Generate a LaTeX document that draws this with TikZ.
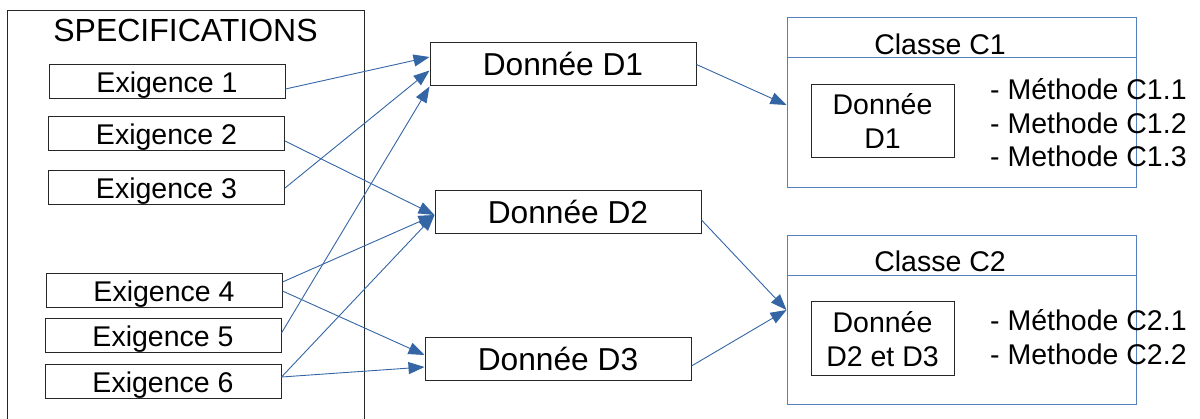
\documentclass[tikz,border=0pt]{standalone}
\usepackage{fontspec}
\setmainfont{Liberation Sans}
\usetikzlibrary{arrows.meta,calc}
\definecolor{arrowblue}{RGB}{52,101,164}
\definecolor{classblue}{RGB}{84,128,190}
\begin{document}
\begin{tikzpicture}[x=1pt,y=-1pt,
  exbox/.style={draw=black!85,line width=1pt,minimum width=236pt,minimum height=34pt,inner sep=0pt,text height=20.5pt,text depth=0pt,font=\fontsize{28.5}{30}\selectfont},
  dbox/.style={draw=black!85,line width=1pt,minimum width=266pt,minimum height=43pt,inner sep=0pt,text height=22.8pt,text depth=0pt,font=\fontsize{31.7}{33}\selectfont},
  classbox/.style={draw=classblue,line width=1pt,minimum width=349pt,inner sep=0pt},
  innerbox/.style={draw=black!85,line width=1pt,minimum width=143pt,inner sep=0pt,align=center,font=\fontsize{28.5}{34}\selectfont},
  lbl/.style={inner sep=0pt,text height=20.5pt,text depth=0pt,font=\fontsize{28.5}{33}\selectfont},
  link/.style={draw=arrowblue,line width=0.9pt,-{Triangle[length=16pt,width=12pt]}}
]
\useasboundingbox (0,0) rectangle (1200,419);
% specifications frame (open at bottom)
\draw[line width=1pt,black!85] (7,419) -- (7,11) -- (364,11) -- (364,419);
\node[lbl,text height=23pt,font=\fontsize{32}{34}\selectfont] (spec) at (185.5,30) {SPECIFICATIONS};

\node[exbox] (ex1) at (167,82) {Exigence 1};
\node[exbox] (ex2) at (166.5,134) {Exigence 2};
\node[exbox] (ex3) at (166.5,188) {Exigence 3};
\node[exbox] (ex4) at (164,291) {Exigence 4};
\node[exbox] (ex5) at (163,336) {Exigence 5};
\node[exbox] (ex6) at (163,382) {Exigence 6};

\node[dbox] (d1) at (563,64.5) {Donnée D1};
\node[dbox] (d2) at (568,212.5) {Donnée D2};
\node[dbox] (d3) at (558,359.5) {Donnée D3};

% class C1
\node[classbox,minimum height=170pt] (c1) at (961.5,103) {};
\coordinate (c1h) at (787,58);
\draw[classblue,line width=1pt] (c1h) -- (c1h -| c1.east);
\node[lbl] (c1t) at (940,44) {Classe C1};
\node[innerbox,minimum height=73pt] (b1) at (882.5,121.5) {Donnée\\D1};
\node[lbl,anchor=west] (m11) at (990,89.5) {- Méthode C1.1};
\node[lbl,anchor=west] (m12) at (990,123) {- Methode C1.2};
\node[lbl,anchor=west] (m13) at (990,156.5) {- Methode C1.3};

% class C2
\node[classbox,minimum height=169pt] (c2) at (961.5,320.5) {};
\coordinate (c2h) at (787,276);
\draw[classblue,line width=1pt] (c2h) -- (c2h -| c2.east);
\node[lbl] (c2t) at (940,261) {Classe C2};
\node[innerbox,minimum height=74pt] (b2) at (882.5,339) {Donnée\\D2 et D3};
\node[lbl,anchor=west] (m21) at (990,320.5) {- Méthode C2.1};
\node[lbl,anchor=west] (m22) at (990,354.5) {- Methode C2.2};

% connectors
\draw[link] ($(ex1.east)+(0,7)$) -- ($(d1.west)+(0,-7.5)$);
\draw[link] (ex3.east) -- ($(d1.west)+(0,6)$);
\draw[link] ($(ex5.east)+(0,-3)$) -- (d1.south west);
\draw[link] ($(ex2.east)+(0,7)$) -- ($(d2.west)+(0,2.5)$);
\draw[link] ($(ex4.east)+(0,-9)$) -- ($(d2.west)+(0,2.5)$);
\draw[link] ($(ex6.east)+(0,-5)$) -- ($(d2.west)+(0,2.5)$);
\draw[link] (ex4.east) -- ($(d3.west)+(0,-4.5)$);
\draw[link] ($(ex6.east)+(0,-5)$) -- ($(d3.west)+(0,7.5)$);
\draw[link] (d1.east) -- ($(c1.west)+(0,2)$);
\draw[link] ($(d2.east)+(0,7.5)$) -- ($(c2.west)+(0,-10.5)$);
\draw[link] ($(d3.east)+(0,6.5)$) -- ($(c2.west)+(0,-10.5)$);
\end{tikzpicture}
\end{document}
